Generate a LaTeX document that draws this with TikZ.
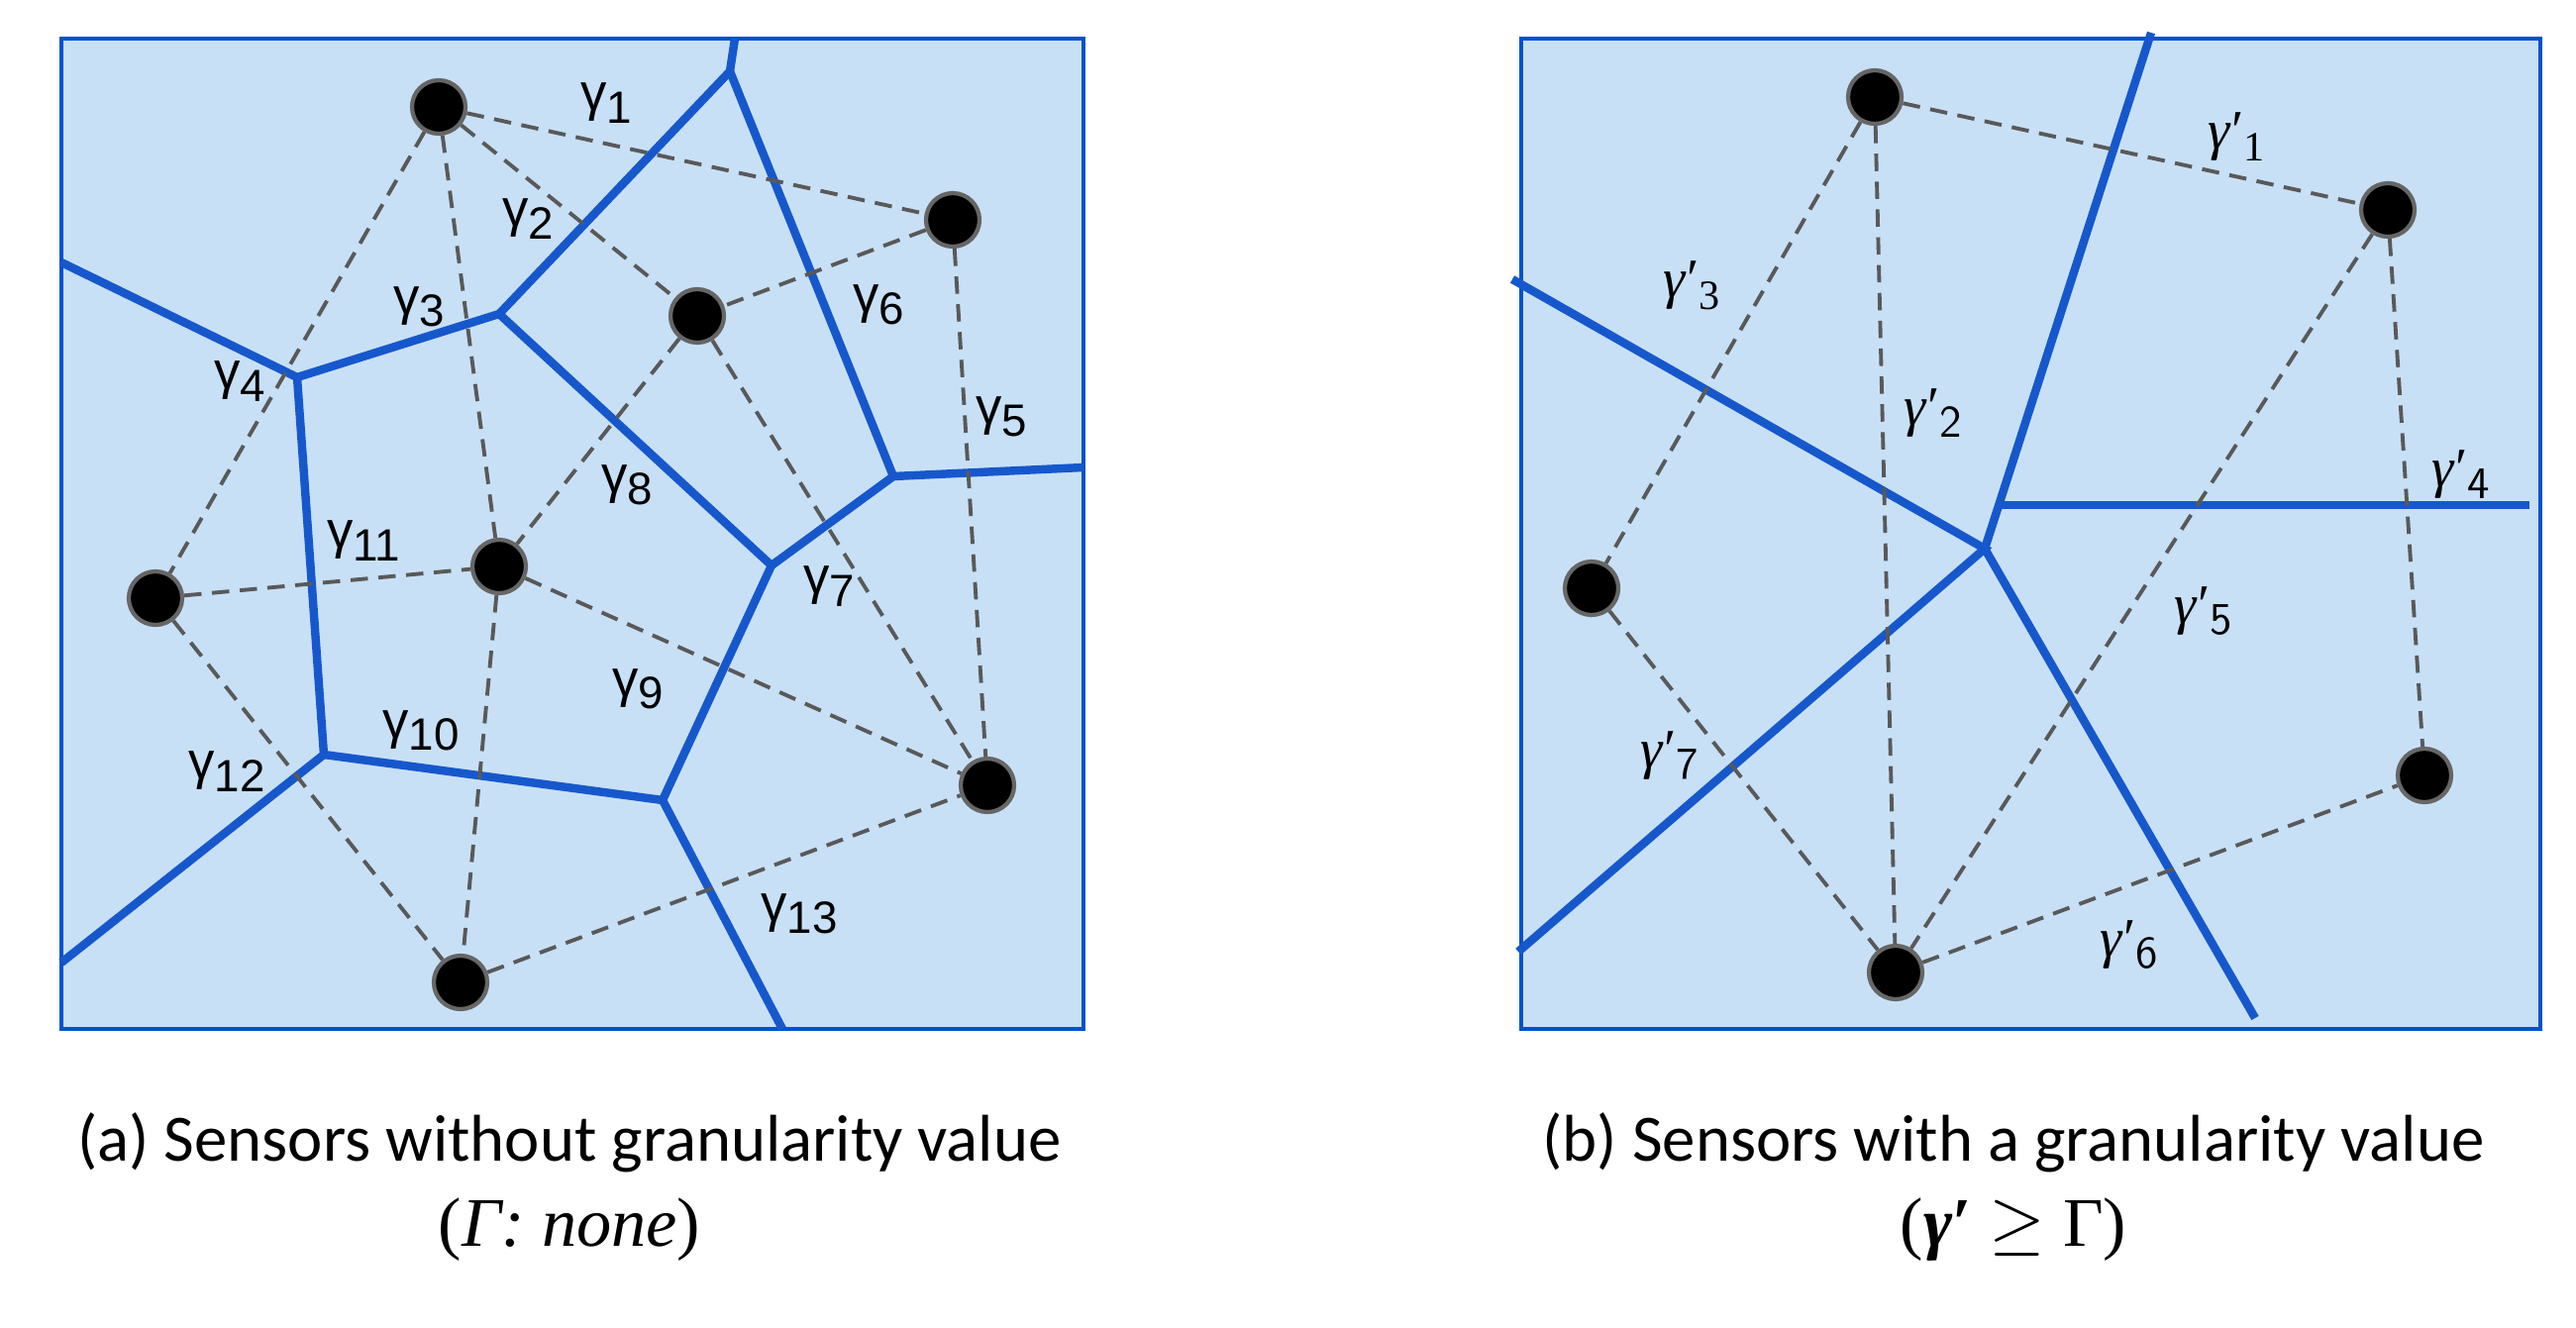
\documentclass[tikz,border=0pt]{standalone}
\usepackage{fontspec}
\setmainfont{Liberation Sans}
\newfontfamily\capf{Carlito}
\newfontfamily\serf{Liberation Serif}
\begin{document}
\begin{tikzpicture}[x=0.1mm,y=-0.1mm,
  panel/.style={draw=blue!60!cyan!80!black,line width=1.2pt,fill={rgb,255:red,200;green,224;blue,246}},
  vor/.style={draw={rgb,255:red,22;green,88;blue,204},line width=2.4pt},
  link/.style={draw=black!65,line width=1.1pt,dash pattern=on 5pt off 3pt},
  sensor/.style={circle,fill=black,draw=black!60,line width=1.2pt,minimum size=5.4mm,inner sep=0pt},
  lab/.style={font=\fontsize{15}{17}\selectfont,inner sep=0pt},
  labi/.style={font=\serf\fontsize{16}{18}\selectfont,inner sep=0pt},
  captxt/.style={font=\capf\fontsize{19}{22}\selectfont},
  captxtb/.style={font=\serf\fontsize{20}{22}\selectfont}]
\useasboundingbox (0,0) rectangle (2601,1341);
% ---------- panel a ----------
\path[panel] (62,39) rectangle (1094,1039);
\coordinate (t) at (742,39);
\coordinate (v1) at (737,72);
\coordinate (v2) at (504,317);
\coordinate (v3) at (300,381);
\coordinate (l) at (62,265);
\coordinate (v4) at (902,481);
\coordinate (r) at (1094,472);
\coordinate (v5) at (779,571);
\coordinate (v6) at (327,762);
\coordinate (v7) at (669,808);
\coordinate (bl) at (62,972);
\coordinate (b) at (790,1039);
\draw[vor] (t)--(v1)--(v2)--(v3)--(l);
\draw[vor] (v3)--(v6)--(bl);
\draw[vor] (v6)--(v7)--(v5)--(v2);
\draw[vor] (v5)--(v4)--(v1);
\draw[vor] (v4)--(r);
\draw[vor] (v7)--(b);
\node[sensor] (A) at (443,108) {};
\node[sensor] (B) at (962,222) {};
\node[sensor] (C) at (704,319) {};
\node[sensor] (D) at (157,604) {};
\node[sensor] (E) at (504,572) {};
\node[sensor] (F) at (997,793) {};
\node[sensor] (G) at (465,992) {};
\foreach \a/\b in {A/B,A/C,A/E,A/D,B/C,B/F,C/E,C/F,D/E,D/G,E/G,E/F,G/F}
  \draw[link] (\a) -- (\b);
\foreach \n/\x/\y in {1/612/104,2/533/221,3/423/310,4/242/385,5/1011/421,6/887/308,7/837/592,8/633/490,9/644/696,10/425/738,11/367/546,12/229/779,13/807/923}
  \node[lab] (g\n) at (\x,\y) {γ\raisebox{-0.45ex}{\fontsize{13}{14}\selectfont\n}};
\node[captxt] (ca) at (575,1154) {(a) Sensors without granularity value};
\node[captxtb] (ca2) at (575,1242) {(\textit{Γ: none})};
% ---------- panel b ----------
\path[panel] (1536,39) rectangle (2565,1039);
\coordinate (c) at (2004,554);
\coordinate (bt) at (2172,33);
\coordinate (bh) at (2018,510);
\coordinate (bhr) at (2554,510);
\coordinate (bll) at (1527,282);
\coordinate (bbl) at (1533,961);
\coordinate (bb) at (2277,1028);
\draw[vor] (c)--(bt);
\draw[vor] (bh)--(bhr);
\draw[vor] (bll)--(c)--(bbl);
\draw[vor] (c)--(bb);
\node[sensor] (P1) at (1893,98) {};
\node[sensor] (P2) at (2411,212) {};
\node[sensor] (P3) at (1607,594) {};
\node[sensor] (P4) at (2448,783) {};
\node[sensor] (P5) at (1914,982) {};
\foreach \a/\b in {P1/P2,P1/P3,P1/P5,P2/P4,P2/P5,P3/P5,P5/P4}
  \draw[link] (\a) -- (\b);
\node[labi] (h1) at (2258,138) {\textit{γ}′\raisebox{-0.45ex}{\fontsize{12}{14}\selectfont 1}};
\node[labi] (h3) at (1708,288) {\textit{γ}′\raisebox{-0.45ex}{\fontsize{12}{14}\selectfont 3}};
\foreach \n/\x/\y in {2/1952/417,4/2485/479,5/2225/617,7/1686/763,6/2150/954}
  \node[labi] (h\n) at (\x,\y) {\textit{γ}′\raisebox{-0.45ex}{\sffamily\fontsize{13}{14}\selectfont\n}};
\node[captxt] (cb) at (2033,1154) {(b) Sensors with a granularity value};
\node[captxtb] (cb2) at (2033,1242) {(\textbf{\textit{γ}′} $\geq$ Γ)};
\end{tikzpicture}
\end{document}
